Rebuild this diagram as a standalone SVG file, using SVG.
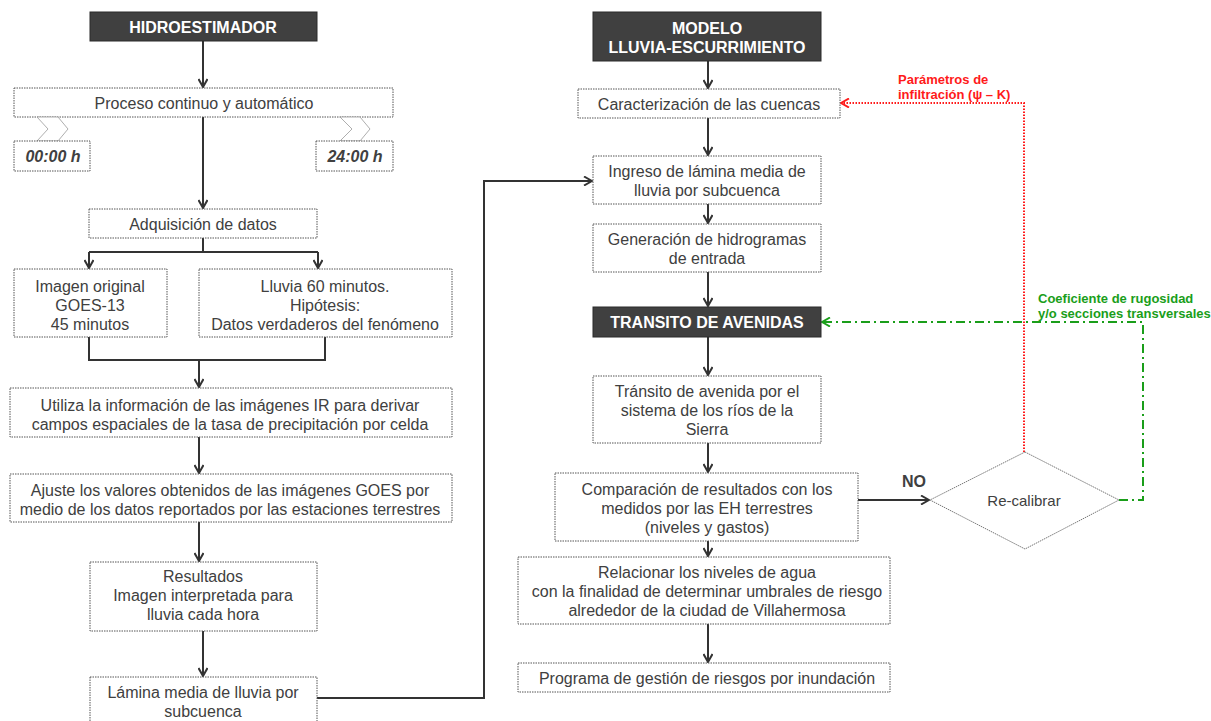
<svg xmlns="http://www.w3.org/2000/svg" width="1211" height="721" viewBox="0 0 1211 721">
<defs>
<style>
.box{fill:#fff;stroke:#555;stroke-width:1;stroke-dasharray:1.5 1}
.dark{fill:#404040;stroke:#2a2a2a;stroke-width:1}
.t{font-family:"Liberation Sans",Arial,sans-serif;font-size:16px;fill:#404040;text-anchor:middle}
.h{font-family:"Liberation Sans",Arial,sans-serif;font-size:16px;font-weight:bold;fill:#fff;text-anchor:middle}
.bi{font-family:"Liberation Sans",Arial,sans-serif;font-size:16px;font-weight:bold;font-style:italic;fill:#404040;text-anchor:middle}
.c{fill:none;stroke:#333;stroke-width:2}
.chev{fill:#fff;stroke:#999;stroke-width:0.8}
.lbl{font-family:"Liberation Sans",Arial,sans-serif;font-size:13px;font-weight:bold}
</style>
<marker id="ar" markerWidth="10" markerHeight="10" refX="9" refY="5" orient="auto" markerUnits="userSpaceOnUse">
<path d="M1,0.5 L9,5 L1,9.5" fill="none" stroke="#333" stroke-width="2"/>
</marker>
<marker id="arR" markerWidth="10" markerHeight="10" refX="9" refY="5" orient="auto" markerUnits="userSpaceOnUse">
<path d="M1,0.5 L9,5 L1,9.5" fill="none" stroke="#ff1a1a" stroke-width="2"/>
</marker>
<marker id="arG" markerWidth="10" markerHeight="10" refX="9" refY="5" orient="auto" markerUnits="userSpaceOnUse">
<path d="M1,0.5 L9,5 L1,9.5" fill="none" stroke="#1a9e1a" stroke-width="2"/>
</marker>
</defs>
<rect width="1211" height="721" fill="#fff"/>

<g id="connectors">
<path class="c" d="M203,41 V87" marker-end="url(#ar)"/>
<path class="c" d="M203,117 V208" marker-end="url(#ar)"/>
<path class="c" d="M203,238 V252 M89,252 H318"/>
<path class="c" d="M89,252 V268" marker-end="url(#ar)"/>
<path class="c" d="M318,252 V268" marker-end="url(#ar)"/>
<path class="c" d="M89,337 V360 H325 V337"/>
<path class="c" d="M199,360 V387" marker-end="url(#ar)"/>
<path class="c" d="M199,437 V473" marker-end="url(#ar)"/>
<path class="c" d="M199,522 V561" marker-end="url(#ar)"/>
<path class="c" d="M203,631 V676" marker-end="url(#ar)"/>
<path class="c" d="M317,698 H484 V181 H592" marker-end="url(#ar)"/>
<path class="c" d="M708,61 V88" marker-end="url(#ar)"/>
<path class="c" d="M708,118 V155" marker-end="url(#ar)"/>
<path class="c" d="M708,204 V223" marker-end="url(#ar)"/>
<path class="c" d="M708,272 V306" marker-end="url(#ar)"/>
<path class="c" d="M708,337 V375" marker-end="url(#ar)"/>
<path class="c" d="M708,443 V472" marker-end="url(#ar)"/>
<path class="c" d="M708,541 V556" marker-end="url(#ar)"/>
<path class="c" d="M708,624 V662" marker-end="url(#ar)"/>
<path class="c" d="M858,500 H929" marker-end="url(#ar)"/>
<path d="M1024,452 V103 H841" fill="none" stroke="#ff1a1a" stroke-width="2" stroke-dasharray="1.5 1.5" marker-end="url(#arR)"/>
<path d="M1119,500 H1143 V322 H822" fill="none" stroke="#1a9e1a" stroke-width="2" stroke-dasharray="9 4 2 4" marker-end="url(#arG)"/>
<text x="914" y="487" style="font-family:'Liberation Sans',Arial,sans-serif;font-size:16px;font-weight:bold;fill:#404040" text-anchor="middle">NO</text>
<text class="lbl" fill="#ff1a1a"><tspan x="898" y="84">Parámetros de</tspan><tspan x="898" y="99">infiltración (ψ – K)</tspan></text>
<text class="lbl" fill="#1a9e1a"><tspan x="1038" y="303">Coeficiente de rugosidad</tspan><tspan x="1038" y="318">y/o secciones transversales</tspan></text>
</g>

<g id="hidroestimador"><rect class="dark" x="90" y="12" width="227" height="29"/><text class="h" x="203" y="33">HIDROESTIMADOR</text></g>
<g id="proceso"><rect class="box" x="14" y="88" width="379" height="29"/><text class="t" x="204" y="109">Proceso continuo y automático</text></g>
<g id="chev-left"><polygon class="chev" points="37,117 58,117 68,129 58,141 37,141 48,129"/></g>
<g id="chev-right"><polygon class="chev" points="340,117 360,117 370,129 360,141 340,141 352,129"/></g>
<g id="t0000"><rect class="box" x="14" y="141" width="76" height="30"/><text class="bi" x="53" y="162">00:00 h</text></g>
<g id="t2400"><rect class="box" x="316" y="141" width="77" height="30"/><text class="bi" x="355" y="162">24:00 h</text></g>
<g id="adquisicion"><rect class="box" x="89" y="209" width="228" height="29"/><text class="t" x="203" y="230">Adquisición de datos</text></g>
<g id="imagen"><rect class="box" x="14" y="269" width="153" height="68"/><text class="t"><tspan x="90" y="292">Imagen original</tspan><tspan x="90" y="311">GOES-13</tspan><tspan x="90" y="330">45 minutos</tspan></text></g>
<g id="lluvia"><rect class="box" x="199" y="269" width="253" height="68"/><text class="t"><tspan x="325" y="292">Lluvia 60 minutos.</tspan><tspan x="325" y="311">Hipótesis:</tspan><tspan x="325" y="330">Datos verdaderos del fenómeno</tspan></text></g>
<g id="utiliza"><rect class="box" x="10" y="388" width="442" height="49"/><text class="t"><tspan x="230" y="411">Utiliza la información de las imágenes IR para derivar</tspan><tspan x="230" y="430">campos espaciales de la tasa de precipitación por celda</tspan></text></g>
<g id="ajuste"><rect class="box" x="10" y="474" width="442" height="48"/><text class="t"><tspan x="230" y="496">Ajuste los valores obtenidos de las imágenes GOES por</tspan><tspan x="230" y="515">medio de los datos reportados por las estaciones terrestres</tspan></text></g>
<g id="resultados"><rect class="box" x="90" y="562" width="227" height="69"/><text class="t"><tspan x="203" y="582">Resultados</tspan><tspan x="203" y="601">Imagen interpretada para</tspan><tspan x="203" y="620">lluvia cada hora</tspan></text></g>
<g id="lamina"><rect class="box" x="90" y="677" width="227" height="50"/><text class="t"><tspan x="203" y="698">Lámina media de lluvia por</tspan><tspan x="203" y="717">subcuenca</tspan></text></g>

<g id="modelo"><rect class="dark" x="593" y="12" width="228" height="49"/><text class="h"><tspan x="707" y="34">MODELO</tspan><tspan x="707" y="53">LLUVIA-ESCURRIMIENTO</tspan></text></g>
<g id="caracterizacion"><rect class="box" x="578" y="89" width="262" height="29"/><text class="t" x="709" y="110">Caracterización de las cuencas</text></g>
<g id="ingreso"><rect class="box" x="593" y="156" width="228" height="48"/><text class="t"><tspan x="707" y="177">Ingreso de lámina media de</tspan><tspan x="707" y="196">lluvia por subcuenca</tspan></text></g>
<g id="generacion"><rect class="box" x="593" y="224" width="228" height="48"/><text class="t"><tspan x="707" y="245">Generación de hidrogramas</tspan><tspan x="707" y="264">de entrada</tspan></text></g>
<g id="transito-h"><rect class="dark" x="593" y="307" width="228" height="30"/><text class="h" x="707" y="328">TRANSITO DE AVENIDAS</text></g>
<g id="transito"><rect class="box" x="593" y="376" width="228" height="67"/><text class="t"><tspan x="707" y="397">Tránsito de avenida por el</tspan><tspan x="707" y="416">sistema de los ríos de la</tspan><tspan x="707" y="435">Sierra</tspan></text></g>
<g id="comparacion"><rect class="box" x="555" y="473" width="303" height="68"/><text class="t"><tspan x="707" y="495">Comparación de resultados con los</tspan><tspan x="707" y="514">medidos por las EH terrestres</tspan><tspan x="707" y="533">(niveles y gastos)</tspan></text></g>
<g id="relacionar"><rect class="box" x="518" y="557" width="372" height="67"/><text class="t"><tspan x="707" y="578">Relacionar los niveles de agua</tspan><tspan x="707" y="597">con la finalidad de determinar umbrales de riesgo</tspan><tspan x="707" y="616">alrededor de la ciudad de Villahermosa</tspan></text></g>
<g id="programa"><rect class="box" x="518" y="663" width="372" height="29"/><text class="t" x="707" y="684">Programa de gestión de riesgos por inundación</text></g>
<g id="recalibrar"><polygon points="1025,452 1119,500 1025,549 930,500" fill="#fff" stroke="#777" stroke-width="1" stroke-dasharray="1.5 0.8"/><text class="t" x="1024" y="506" style="font-size:15px">Re-calibrar</text></g>
</svg>
